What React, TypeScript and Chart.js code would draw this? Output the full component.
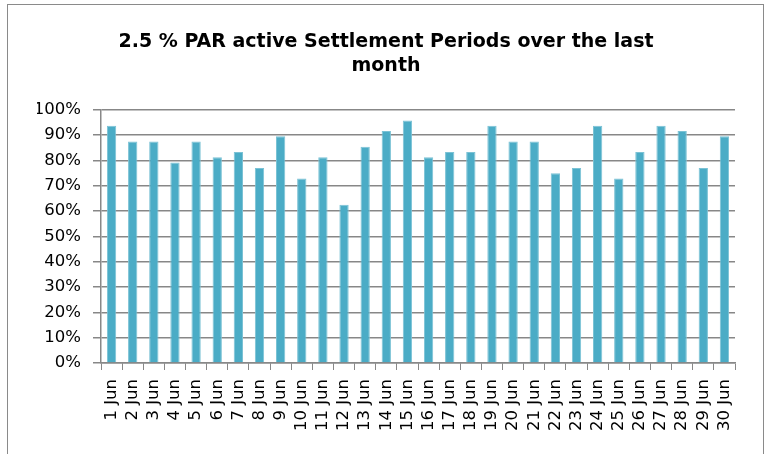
import React, { useEffect, useRef } from "react";
import { Chart, registerables } from "chart.js";

Chart.register(...registerables);

const titleLines = ["2.5 % PAR active Settlement Periods over the last", "month"];

const categories = [
  "1 Jun", "2 Jun", "3 Jun", "4 Jun", "5 Jun", "6 Jun", "7 Jun", "8 Jun", "9 Jun", "10 Jun",
  "11 Jun", "12 Jun", "13 Jun", "14 Jun", "15 Jun", "16 Jun", "17 Jun", "18 Jun", "19 Jun", "20 Jun",
  "21 Jun", "22 Jun", "23 Jun", "24 Jun", "25 Jun", "26 Jun", "27 Jun", "28 Jun", "29 Jun", "30 Jun",
];

// share of the 48 settlement periods of each day that were PAR-active
const activeShare = [
  0.9375, 0.875, 0.875, 0.7917, 0.875, 0.8125, 0.8333, 0.7708, 0.8958, 0.7292,
  0.8125, 0.625, 0.8542, 0.9167, 0.9583, 0.8125, 0.8333, 0.8333, 0.9375, 0.875,
  0.875, 0.75, 0.7708, 0.9375, 0.7292, 0.8333, 0.9375, 0.9167, 0.7708, 0.8958,
];

const yTicks = [0, 0.1, 0.2, 0.3, 0.4, 0.5, 0.6, 0.7, 0.8, 0.9, 1.0];

export default function App() {
  const ref = useRef<HTMLCanvasElement | null>(null);

  useEffect(() => {
    if (!ref.current) return;
    const chart = new Chart(ref.current, {
      type: "bar",
      data: {
        labels: categories,
        datasets: [
          {
            data: activeShare,
            backgroundColor: "#4BACC6",
            borderColor: "#7BC2D5",
            borderWidth: 1,
            barPercentage: 0.44,
            categoryPercentage: 1,
          },
        ],
      },
      options: {
        responsive: false,
        animation: false,
        layout: { padding: { left: 37, right: 34, top: 0, bottom: 0 } },
        plugins: {
          legend: { display: false },
          tooltip: { enabled: false },
          title: {
            display: true,
            text: titleLines,
            color: "#000000",
            font: { family: "DejaVu Sans", size: 19, weight: "bold", lineHeight: 1.26 },
            padding: { top: 30, bottom: 32 },
          },
        },
        scales: {
          x: {
            offset: true,
            grid: {
              offset: true,
              drawOnChartArea: false,
              drawTicks: true,
              tickLength: 7,
              color: "#888888",
              lineWidth: 1,
            },
            border: { display: true, color: "#888888", width: 1.5 },
            ticks: {
              autoSkip: false,
              maxRotation: 90,
              minRotation: 90,
              padding: 9,
              color: "#000000",
              font: { family: "DejaVu Sans", size: 16.5 },
            },
            afterFit: (scale: any) => {
              scale.height = 91;
            },
          },
          y: {
            min: 0,
            max: 1,
            z: 1,
            afterBuildTicks: (scale: any) => {
              scale.ticks = yTicks.map((v) => ({ value: v }));
            },
            grid: {
              color: "rgba(0,0,0,0.47)",
              lineWidth: 1.5,
              tickLength: 8,
              drawTicks: true,
            },
            border: { display: true, color: "#888888", width: 1.5 },
            ticks: {
              padding: 12,
              color: "#000000",
              font: { family: "DejaVu Sans", size: 16.5 },
              callback: (v: any) => Math.round(Number(v) * 100) + "%",
            },
            afterFit: (scale: any) => {
              scale.width = 64;
            },
          },
        },
      },
    });
    return () => chart.destroy();
  }, []);

  return (
    <div style={{ position: "fixed", left: 0, top: 0, width: 769, height: 454, background: "#ffffff", overflow: "hidden" }}>
      <canvas ref={ref} width={769} height={454} style={{ position: "absolute", left: 0, top: 0 }} />
      <div
        style={{
          position: "absolute",
          left: 7,
          top: 4,
          width: 755,
          height: 470,
          border: "1px solid #8a8a8a",
          pointerEvents: "none",
        }}
      />
    </div>
  );
}
